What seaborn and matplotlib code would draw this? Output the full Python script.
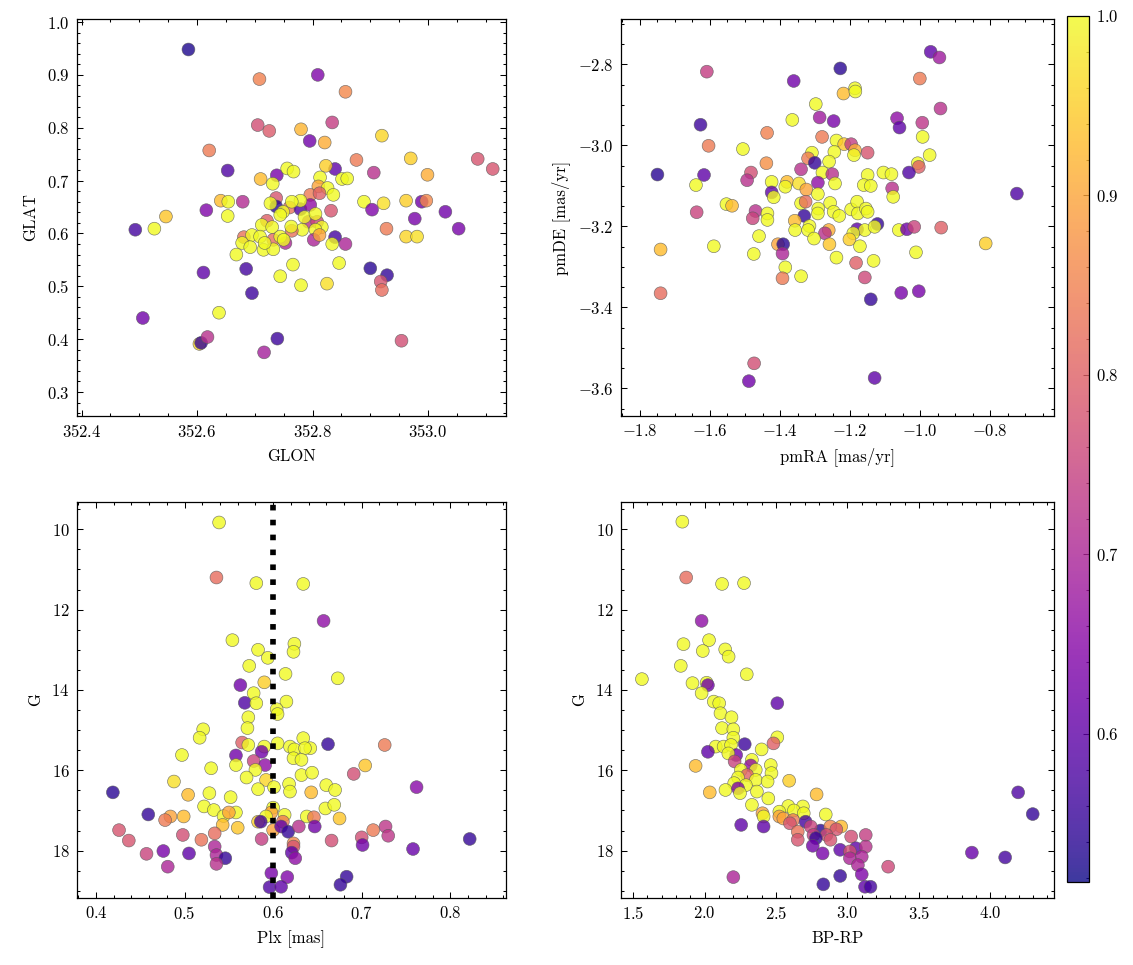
import numpy as np
import pandas as pd
import matplotlib
matplotlib.use("Agg")
import matplotlib.pyplot as plt
import seaborn as sns
from matplotlib.ticker import MultipleLocator

# ---------------- data ----------------
# Panel 1: sky position
glon = [352.585, 352.708, 352.809, 352.857, 352.705, 352.725, 352.834, 352.780, 352.795, 352.821,
        352.920, 352.621, 352.653, 352.876, 352.970, 353.086, 353.112, 352.906, 352.999, 352.710,
        352.738, 352.756, 352.767, 352.731, 352.839, 352.823, 352.851, 352.860, 352.813, 352.810,
        352.826, 352.836, 352.796, 352.812, 352.546, 352.526, 352.493, 352.506, 352.641, 352.654,
        352.653, 352.616, 352.679, 352.611, 352.685, 352.695, 352.638, 352.604, 352.607, 352.618,
        352.716, 352.739, 352.954, 352.900, 352.929, 352.918, 352.920, 352.928, 352.889, 352.923,
        352.903, 352.962, 352.977, 352.989, 352.997, 353.030, 353.053, 352.962, 352.981, 352.846,
        352.825, 352.839, 352.834, 352.857, 352.832, 352.766, 352.744, 352.780, 352.668, 352.737,
        352.737, 352.760, 352.749, 352.779, 352.796, 352.779, 352.764, 352.727, 352.721, 352.712,
        352.730, 352.744, 352.793, 352.808, 352.786, 352.805, 352.816, 352.805, 352.782, 352.764,
        352.763, 352.732, 352.753, 352.802, 352.812, 352.681, 352.695, 352.709, 352.678, 352.692,
        352.715, 352.732, 352.717, 352.744, 352.750]
glat = [0.948, 0.892, 0.900, 0.868, 0.805, 0.794, 0.810, 0.797, 0.775, 0.772,
        0.785, 0.757, 0.719, 0.739, 0.742, 0.741, 0.722, 0.715, 0.711, 0.703,
        0.710, 0.723, 0.717, 0.694, 0.722, 0.728, 0.703, 0.704, 0.706, 0.689,
        0.686, 0.673, 0.673, 0.676, 0.632, 0.609, 0.607, 0.440, 0.662, 0.660,
        0.633, 0.644, 0.660, 0.526, 0.533, 0.487, 0.450, 0.391, 0.393, 0.404,
        0.375, 0.401, 0.397, 0.534, 0.521, 0.509, 0.493, 0.609, 0.660, 0.657,
        0.645, 0.662, 0.628, 0.660, 0.662, 0.641, 0.609, 0.594, 0.594, 0.544,
        0.505, 0.593, 0.580, 0.580, 0.643, 0.541, 0.519, 0.502, 0.560, 0.667,
        0.651, 0.649, 0.641, 0.646, 0.654, 0.662, 0.660, 0.657, 0.624, 0.616,
        0.612, 0.635, 0.622, 0.622, 0.631, 0.637, 0.612, 0.607, 0.607, 0.605,
        0.613, 0.588, 0.582, 0.588, 0.597, 0.593, 0.597, 0.594, 0.582, 0.574,
        0.569, 0.570, 0.582, 0.594, 0.588]
prob_sky = [0.53, 0.85, 0.64, 0.86, 0.77, 0.79, 0.74, 0.92, 0.62, 0.91,
            0.96, 0.84, 0.58, 0.84, 0.95, 0.78, 0.78, 0.72, 0.91, 0.93,
            0.63, 1.00, 1.00, 1.00, 0.60, 0.95, 1.00, 1.00, 1.00, 0.90,
            1.00, 1.00, 0.84, 0.80, 0.94, 1.00, 0.57, 0.62, 0.93, 1.00,
            1.00, 0.64, 0.71, 0.60, 0.57, 0.56, 1.00, 0.96, 0.55, 0.72,
            0.69, 0.56, 0.77, 0.54, 0.55, 0.78, 0.82, 0.84, 1.00, 0.97,
            0.64, 0.95, 0.63, 0.62, 0.86, 0.62, 0.63, 0.96, 0.97, 1.00,
            0.97, 0.57, 1.00, 0.70, 0.78, 1.00, 1.00, 1.00, 1.00, 0.78,
            0.54, 0.83, 1.00, 0.58, 0.66, 1.00, 1.00, 1.00, 0.80, 1.00,
            1.00, 1.00, 0.72, 0.76, 1.00, 1.00, 1.00, 1.00, 1.00, 0.83,
            1.00, 0.82, 0.70, 0.70, 0.90, 0.83, 1.00, 1.00, 1.00, 1.00,
            1.00, 1.00, 1.00, 1.00, 1.00]

# Panel 2: proper motions
pmra = [-0.970, -0.945, -1.228, -1.609, -1.001, -1.361, -1.186, -1.219, -1.185, -1.298,
        -0.942, -1.287, -1.247, -1.365, -1.627, -1.066, -1.059, -0.994, -1.437, -1.280,
        -0.993, -1.604, -1.506, -1.239, -1.217, -1.197, -1.186, -1.189, -1.150, -1.245,
        -1.309, -0.973, -1.320, -1.301, -1.439, -1.260, -1.007, -1.004, -1.483, -1.340,
        -1.279, -1.251, -1.032, -1.750, -1.617, -1.494, -1.150, -1.105, -1.082, -1.424,
        -1.380, -1.346, -1.292, -1.243, -1.640, -1.385, -1.325, -1.161, -1.141, -1.080,
        -1.077, -0.724, -1.424, -1.418, -1.292, -1.553, -1.537, -1.638, -1.470, -1.436,
        -1.340, -1.327, -1.257, -1.291, -1.292, -1.247, -1.231, -1.197, -1.180, -1.178,
        -1.155, -1.150, -1.331, -1.478, -1.436, -1.358, -1.316, -1.357, -1.320, -1.261,
        -1.272, -1.180, -1.158, -1.191, -1.122, -1.130, -1.061, -1.038, -1.017, -0.940,
        -1.303, -1.202, -1.460, -1.259, -1.172, -1.406, -1.391, -1.741, -1.589, -1.475,
        -1.393, -0.813, -1.012, -1.239, -1.183, -1.133, -1.385, -1.340, -1.393, -1.158,
        -1.741, -1.054, -1.004, -1.141, -1.474, -1.489, -1.130]
pmde = [-2.769, -2.783, -2.810, -2.818, -2.835, -2.841, -2.859, -2.872, -2.867, -2.898,
        -2.909, -2.931, -2.940, -2.937, -2.949, -2.933, -2.956, -2.944, -2.969, -2.979,
        -2.979, -3.001, -3.009, -2.988, -2.997, -2.997, -3.012, -3.024, -3.018, -3.016,
        -3.018, -3.024, -3.032, -3.043, -3.044, -3.040, -3.044, -3.053, -3.067, -3.059,
        -3.067, -3.071, -3.067, -3.072, -3.073, -3.086, -3.073, -3.067, -3.071, -3.090,
        -3.090, -3.094, -3.092, -3.094, -3.098, -3.102, -3.109, -3.098, -3.100, -3.106,
        -3.127, -3.119, -3.116, -3.128, -3.120, -3.145, -3.149, -3.165, -3.162, -3.168,
        -3.143, -3.139, -3.142, -3.156, -3.168, -3.164, -3.174, -3.158, -3.139, -3.168,
        -3.156, -3.164, -3.174, -3.180, -3.184, -3.186, -3.199, -3.209, -3.209, -3.209,
        -3.217, -3.207, -3.209, -3.217, -3.194, -3.201, -3.209, -3.207, -3.201, -3.203,
        -3.230, -3.232, -3.224, -3.244, -3.249, -3.244, -3.244, -3.257, -3.249, -3.268,
        -3.267, -3.242, -3.264, -3.277, -3.290, -3.285, -3.301, -3.323, -3.328, -3.326,
        -3.365, -3.364, -3.360, -3.380, -3.538, -3.582, -3.574]
prob_pm = [0.60, 0.68, 0.54, 0.74, 0.84, 0.62, 1.00, 0.93, 1.00, 1.00,
           0.72, 0.68, 0.63, 1.00, 0.56, 0.66, 0.60, 0.73, 0.85, 0.84,
           1.00, 0.84, 1.00, 1.00, 0.94, 0.74, 0.91, 1.00, 0.78, 1.00,
           1.00, 1.00, 0.84, 0.55, 0.87, 1.00, 1.00, 0.80, 0.77, 0.72,
           1.00, 0.72, 0.58, 0.54, 0.60, 0.72, 1.00, 1.00, 1.00, 1.00,
           0.93, 0.97, 0.66, 1.00, 1.00, 1.00, 0.90, 1.00, 1.00, 0.72,
           1.00, 0.58, 0.60, 1.00, 1.00, 1.00, 0.93, 0.75, 0.72, 1.00,
           1.00, 0.82, 1.00, 1.00, 1.00, 1.00, 1.00, 1.00, 1.00, 1.00,
           1.00, 1.00, 0.55, 0.75, 1.00, 0.93, 1.00, 1.00, 1.00, 0.91,
           0.72, 0.60, 1.00, 1.00, 0.55, 1.00, 1.00, 0.62, 0.75, 0.80,
           1.00, 0.95, 1.00, 0.94, 1.00, 0.90, 0.54, 0.93, 1.00, 1.00,
           0.70, 0.95, 1.00, 1.00, 0.80, 1.00, 1.00, 1.00, 0.84, 0.76,
           0.82, 0.63, 0.63, 0.55, 0.77, 0.62, 0.60]

# Panel 3: parallax vs G
plx = [0.539, 0.536, 0.581, 0.634, 0.657, 0.554, 0.624, 0.623, 0.583, 0.594,
       0.573, 0.614, 0.673, 0.563, 0.590, 0.578, 0.568, 0.581, 0.615, 0.604,
       0.605, 0.572, 0.571, 0.521, 0.517, 0.565, 0.572, 0.590, 0.605, 0.619,
       0.624, 0.634, 0.642, 0.636, 0.662, 0.726, 0.497, 0.558, 0.587, 0.578,
       0.591, 0.623, 0.632, 0.558, 0.530, 0.580, 0.704, 0.691, 0.570, 0.592,
       0.632, 0.644, 0.488, 0.618, 0.601, 0.583, 0.660, 0.419, 0.762, 0.528,
       0.504, 0.552, 0.619, 0.643, 0.670, 0.522, 0.533, 0.659, 0.669, 0.600,
       0.544, 0.558, 0.550, 0.598, 0.613, 0.459, 0.484, 0.478, 0.499, 0.592,
       0.638, 0.646, 0.675, 0.583, 0.586, 0.611, 0.543, 0.560, 0.600, 0.609,
       0.617, 0.629, 0.647, 0.727, 0.730, 0.713, 0.426, 0.498, 0.534, 0.519,
       0.437, 0.587, 0.623, 0.623, 0.666, 0.700, 0.701, 0.822, 0.758, 0.457,
       0.476, 0.505, 0.534, 0.536, 0.546, 0.481, 0.536, 0.621, 0.625, 0.683,
       0.676, 0.598, 0.616, 0.596, 0.609]
g_plx = [9.83, 11.20, 11.34, 11.36, 12.28, 12.76, 12.85, 13.05, 13.00, 13.20,
         13.40, 13.60, 13.71, 13.88, 13.81, 14.08, 14.32, 14.33, 14.29, 14.48,
         14.60, 14.68, 14.95, 14.98, 15.19, 15.31, 15.37, 15.41, 15.33, 15.41,
         15.48, 15.20, 15.45, 15.45, 15.35, 15.37, 15.62, 15.63, 15.54, 15.77,
         15.87, 15.70, 15.74, 15.87, 15.95, 15.99, 15.88, 16.09, 16.18, 16.24,
         16.12, 16.06, 16.28, 16.34, 16.42, 16.47, 16.37, 16.55, 16.42, 16.57,
         16.61, 16.67, 16.53, 16.55, 16.49, 16.90, 16.99, 16.95, 16.86, 16.93,
         17.14, 17.05, 17.05, 17.05, 17.11, 17.10, 17.15, 17.24, 17.15, 17.15,
         17.15, 17.17, 17.20, 17.28, 17.28, 17.28, 17.36, 17.43, 17.49, 17.40,
         17.53, 17.40, 17.40, 17.40, 17.63, 17.49, 17.49, 17.61, 17.57, 17.73,
         17.75, 17.71, 17.82, 17.90, 17.75, 17.67, 17.86, 17.71, 17.96, 18.08,
         18.01, 18.07, 17.90, 18.11, 18.19, 18.40, 18.33, 18.05, 18.19, 18.65,
         18.85, 18.56, 18.66, 18.91, 18.90]
prob_plx = [1.00, 0.82, 1.00, 1.00, 0.66, 1.00, 1.00, 1.00, 1.00, 1.00,
            1.00, 1.00, 1.00, 0.62, 0.95, 1.00, 0.58, 1.00, 1.00, 1.00,
            1.00, 1.00, 1.00, 1.00, 1.00, 0.80, 1.00, 1.00, 1.00, 1.00,
            1.00, 1.00, 1.00, 1.00, 0.55, 0.84, 1.00, 0.62, 0.62, 0.75,
            0.66, 1.00, 1.00, 1.00, 1.00, 1.00, 0.94, 0.77, 1.00, 0.96,
            1.00, 1.00, 0.97, 1.00, 1.00, 1.00, 1.00, 0.54, 0.65, 1.00,
            0.93, 1.00, 1.00, 0.93, 1.00, 1.00, 1.00, 1.00, 1.00, 1.00,
            1.00, 1.00, 0.90, 0.90, 1.00, 0.55, 0.90, 0.84, 0.93, 1.00,
            1.00, 0.84, 0.94, 0.95, 0.57, 0.84, 0.93, 0.94, 0.90, 0.60,
            0.55, 0.72, 0.62, 0.73, 0.73, 0.84, 0.78, 0.77, 0.82, 0.83,
            0.78, 0.74, 0.86, 0.78, 0.77, 0.77, 0.62, 0.55, 0.61, 0.75,
            0.63, 0.60, 0.70, 0.70, 0.55, 0.70, 0.72, 0.60, 0.66, 0.55,
            0.55, 0.63, 0.64, 0.58, 0.60]

# Panel 4: colour-magnitude diagram
bprp = [1.844, 1.871, 2.122, 2.276, 1.979, 2.031, 1.852, 1.987, 2.144, 2.168,
        1.833, 2.295, 1.561, 1.915, 2.014, 2.023, 1.979, 2.064, 2.102, 2.509,
        2.111, 2.188, 2.122, 2.201, 2.201, 2.509, 2.078, 2.133, 2.185, 2.281,
        2.482, 2.399, 2.023, 2.221, 2.166, 2.331, 2.210, 2.323, 2.463, 1.937,
        2.254, 2.358, 2.468, 2.298, 2.234, 2.358, 2.441, 2.592, 2.207, 2.289,
        2.146, 2.234, 2.248, 2.366, 2.036, 2.446, 2.784, 4.195, 2.331, 2.586,
        2.688, 2.523, 2.625, 2.848, 2.405, 2.413, 2.523, 2.551, 2.694, 4.297,
        2.619, 2.707, 2.597, 2.256, 2.413, 2.956, 2.812, 2.743, 2.880, 2.922,
        2.652, 2.762, 2.853, 3.026, 3.128, 2.652, 2.779, 2.881, 2.757, 2.949,
        3.059, 3.128, 3.017, 2.826, 3.871, 4.104, 3.017, 3.100, 3.073, 3.285,
        3.100, 2.949, 2.201, 2.831, 3.123, 3.161]
g_cmd = [9.81, 11.20, 11.36, 11.34, 12.28, 12.76, 12.86, 13.03, 12.99, 13.17,
         13.40, 13.61, 13.73, 13.83, 13.82, 13.88, 14.08, 14.29, 14.33, 14.33,
         14.58, 14.68, 14.95, 14.98, 15.19, 15.18, 15.41, 15.41, 15.37, 15.35,
         15.33, 15.48, 15.54, 15.62, 15.58, 15.74, 15.78, 15.88, 15.87, 15.89,
         15.99, 15.99, 16.07, 16.12, 16.18, 16.24, 16.28, 16.26, 16.32, 16.37,
         16.49, 16.45, 16.57, 16.53, 16.55, 16.70, 16.60, 16.55, 16.86, 16.89,
         16.90, 17.03, 17.00, 17.10, 17.07, 17.15, 17.15, 17.20, 17.07, 17.09,
         17.24, 17.28, 17.32, 17.36, 17.40, 17.40, 17.50, 17.40, 17.40, 17.47,
         17.53, 17.61, 17.61, 17.65, 17.61, 17.73, 17.69, 17.73, 17.88, 17.98,
         17.94, 17.90, 18.02, 18.07, 18.05, 18.17, 18.19, 18.15, 18.36, 18.40,
         18.59, 18.63, 18.66, 18.84, 18.90, 18.90]
prob_cmd = [1.00, 0.82, 1.00, 1.00, 0.66, 1.00, 1.00, 1.00, 1.00, 1.00,
            1.00, 1.00, 1.00, 1.00, 1.00, 0.62, 1.00, 1.00, 1.00, 0.60,
            1.00, 1.00, 1.00, 1.00, 1.00, 1.00, 1.00, 1.00, 1.00, 0.56,
            0.80, 1.00, 0.60, 0.62, 1.00, 1.00, 0.75, 0.66, 1.00, 0.93,
            1.00, 1.00, 1.00, 0.80, 1.00, 1.00, 1.00, 0.95, 1.00, 1.00,
            1.00, 0.64, 1.00, 1.00, 0.93, 1.00, 0.93, 0.58, 1.00, 1.00,
            1.00, 1.00, 1.00, 1.00, 0.90, 1.00, 0.90, 0.90, 1.00, 0.55,
            0.84, 0.57, 0.78, 0.60, 0.60, 0.93, 0.54, 0.75, 0.86, 0.78,
            0.83, 0.74, 0.77, 0.77, 0.74, 0.78, 0.55, 0.78, 0.62, 0.60,
            0.60, 0.72, 0.77, 0.63, 0.61, 0.57, 0.70, 0.70, 0.70, 0.76,
            0.64, 0.55, 0.70, 0.55, 0.60, 0.57]

plx_ref = 0.6
prob_min, prob_max = 0.5175, 1.0
cb_ticks = [0.6, 0.7, 0.8, 0.9, 1.0]

# ---------------- style ----------------
sns.set_style("ticks")
plt.rcParams.update({
    "font.family": ["cmr10", "DejaVu Serif"],
    "mathtext.fontset": "cm",
    "axes.formatter.use_mathtext": True,
    "axes.unicode_minus": True,
    "font.size": 8,
    "axes.labelsize": 8,
    "xtick.labelsize": 8,
    "ytick.labelsize": 8,
    "text.color": "black",
    "axes.labelcolor": "black",
    "xtick.labelcolor": "black",
    "ytick.labelcolor": "black",
    "xtick.direction": "in",
    "ytick.direction": "in",
    "xtick.top": True,
    "ytick.right": True,
    "xtick.minor.visible": True,
    "ytick.minor.visible": True,
    "xtick.major.size": 3,
    "ytick.major.size": 3,
    "xtick.minor.size": 1.5,
    "ytick.minor.size": 1.5,
    "xtick.major.width": 0.5,
    "ytick.major.width": 0.5,
    "xtick.minor.width": 0.5,
    "ytick.minor.width": 0.5,
    "axes.linewidth": 0.6,
    "axes.edgecolor": "black",
    "xtick.color": "black",
    "ytick.color": "black",
})

W, H = 1133, 965
fig = plt.figure(figsize=(W / 150, H / 150), dpi=150)

def px_axes(x0, x1, y0, y1):
    return fig.add_axes([x0 / W, (H - y1) / H, (x1 - x0) / W, (y1 - y0) / H])

ax1 = px_axes(77, 506, 19, 416)
ax2 = px_axes(621, 1054, 19, 416)
ax3 = px_axes(77, 506, 502, 898)
ax4 = px_axes(621, 1054, 502, 898)
cax = px_axes(1067, 1089, 16, 882)

kw = dict(palette="plasma", hue_norm=(prob_min, prob_max), legend=False,
          s=38, alpha=0.8, edgecolor="0.35", linewidth=0.3)

df1 = pd.DataFrame({"GLON": glon, "GLAT": glat, "prob": prob_sky})
df2 = pd.DataFrame({"pmRA": pmra, "pmDE": pmde, "prob": prob_pm})
df3 = pd.DataFrame({"Plx": plx, "G": g_plx, "prob": prob_plx})
df4 = pd.DataFrame({"BPRP": bprp, "G": g_cmd, "prob": prob_cmd})

sns.scatterplot(data=df1, x="GLON", y="GLAT", hue="prob", ax=ax1, **kw)
sns.scatterplot(data=df2, x="pmRA", y="pmDE", hue="prob", ax=ax2, **kw)
sns.scatterplot(data=df3, x="Plx", y="G", hue="prob", ax=ax3, **kw)
sns.scatterplot(data=df4, x="BPRP", y="G", hue="prob", ax=ax4, **kw)

ax3.axvline(plx_ref, color="black", ls=":", lw=2.7, zorder=5)

ax1.set_xlim(352.392, 353.135)
ax1.set_ylim(0.2546, 1.0057)
ax1.xaxis.set_major_locator(MultipleLocator(0.2))
ax1.xaxis.set_minor_locator(MultipleLocator(0.05))
ax2.set_xlim(-1.854, -0.618)
ax2.set_ylim(-3.668, -2.688)
ax3.set_xlim(0.3785, 0.863)
ax3.set_ylim(19.18, 9.32)
ax4.set_xlim(1.4146, 4.446)
ax4.set_ylim(19.18, 9.32)

ax1.set_xlabel("GLON"); ax1.set_ylabel("GLAT")
ax2.set_xlabel("pmRA [mas/yr]"); ax2.set_ylabel("pmDE [mas/yr]")
ax3.set_xlabel("Plx [mas]"); ax3.set_ylabel("G")
ax4.set_xlabel("BP-RP"); ax4.set_ylabel("G")

for ax in (ax1, ax2, ax3, ax4):
    ax.tick_params(which="both", direction="in", top=True, right=True)

sm = plt.cm.ScalarMappable(cmap="plasma",
                           norm=plt.Normalize(prob_min, prob_max))
cb = fig.colorbar(sm, cax=cax, alpha=0.8)
cb.set_ticks(cb_ticks)
cax.yaxis.set_minor_locator(MultipleLocator(0.02))
cb.outline.set_linewidth(0.6)
cax.tick_params(which="major", direction="in", length=3, width=0.5)
cax.tick_params(which="minor", direction="in", length=1.5, width=0.5)

fig.savefig("out.png", dpi=150)
